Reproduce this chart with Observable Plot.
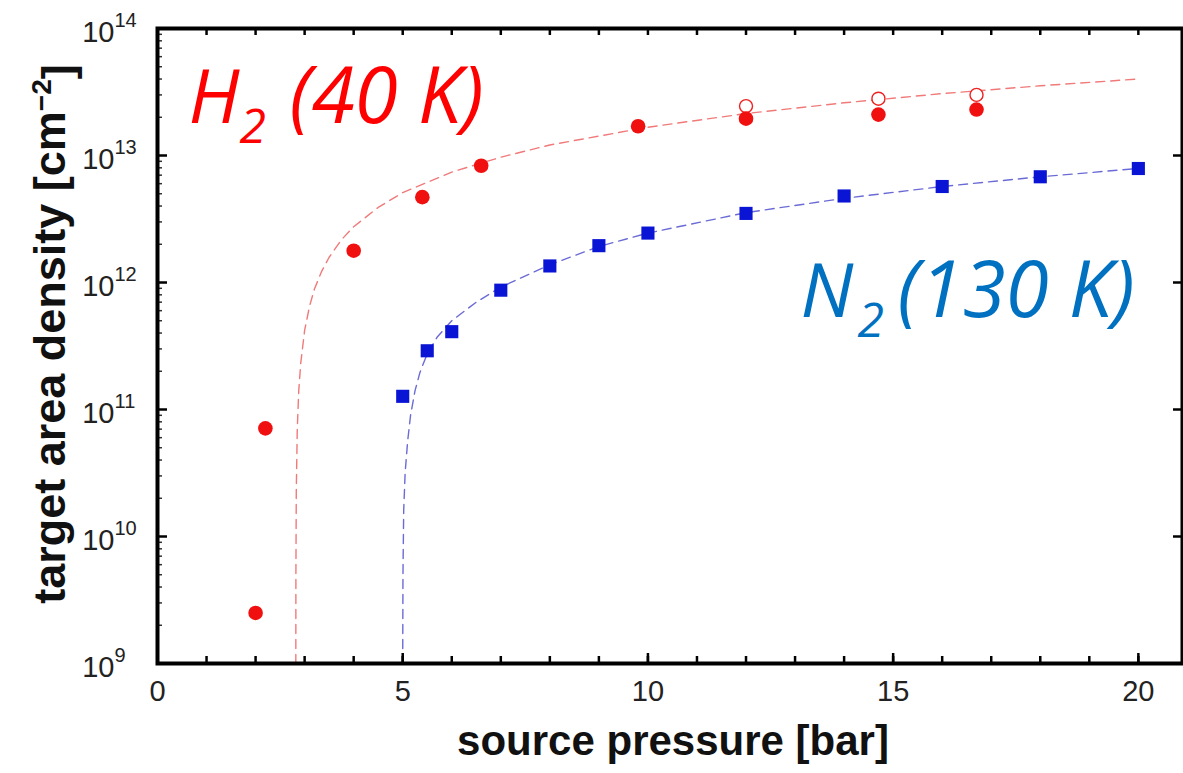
<!DOCTYPE html>
<html>
<head>
<meta charset="utf-8">
<script src="https://cdn.jsdelivr.net/npm/d3@7"></script>
<script src="https://cdn.jsdelivr.net/npm/@observablehq/plot@0.6"></script>
<style>
  html, body { margin: 0; padding: 0; background: white; }
  #chart svg { display: block; }
</style>
</head>
<body>
<div id="chart"></div>
<script>
// ---- data ----
const h2Pressure = [2.0, 2.2, 4.0, 5.4, 6.6, 9.8, 12.0, 14.7, 16.7];
const h2Density  = [2.5e9, 7.1e10, 1.78e12, 4.7e12, 8.3e12, 1.7e13, 1.95e13, 2.1e13, 2.3e13];
const h2OpenPressure = [12.0, 14.7, 16.7];
const h2OpenDensity  = [2.45e13, 2.8e13, 3.0e13];
const n2Pressure = [5, 5.5, 6, 7, 8, 9, 10, 12, 14, 16, 18, 20];
const n2Density  = [1.27e11, 2.9e11, 4.1e11, 8.7e11, 1.35e12, 1.95e12, 2.45e12, 3.5e12, 4.8e12, 5.7e12, 6.8e12, 7.9e12];
// dashed fit curves
const h2FitPressure = [2.8204, 2.822, 2.83, 2.85, 2.88, 2.92, 3.0, 3.1, 3.2, 3.35, 3.5, 3.75, 4.0, 4.5, 5, 6, 7, 8, 10, 12, 14, 16, 18, 20];
const h2FitDensity  = [1e9, 5e9, 2.3e10, 7e10, 1.4e11, 2.3e11, 4.2e11, 6.5e11, 8.9e11, 1.23e12, 1.58e12, 2.17e12, 2.75e12, 3.9e12, 5.1e12, 7.4e12, 9.7e12, 1.21e13, 1.67e13, 2.14e13, 2.6e13, 3.07e13, 3.54e13, 4.0e13];
const n2FitPressure = [5.0, 5.005, 5.02, 5.05, 5.1, 5.16, 5.25, 5.35, 5.5, 5.7, 6.0, 6.5, 7, 8, 9, 10, 12, 14, 16, 18, 20];
const n2FitDensity  = [1e9, 5e9, 1.6e10, 3.2e10, 5.6e10, 9e10, 1.4e11, 1.95e11, 2.75e11, 3.7e11, 5e11, 7e11, 9.2e11, 1.38e12, 1.92e12, 2.45e12, 3.55e12, 4.6e12, 5.7e12, 6.8e12, 7.9e12];
// tick labels
const xTickLabels = [0, 5, 10, 15, 20];
const yTickExponents = [9, 10, 11, 12, 13, 14];
const xLabel = "source pressure [bar]";
const yLabel = "target area density [cm";
const yLabelSup = "\u22122";

// ---- build tables ----
const h2 = h2Pressure.map((p, i) => ({p, n: h2Density[i]}));
const h2Open = h2OpenPressure.map((p, i) => ({p, n: h2OpenDensity[i]}));
const n2 = n2Pressure.map((p, i) => ({p, n: n2Density[i]}));
const h2Fit = h2FitPressure.map((p, i) => ({p, n: h2FitDensity[i]}));
const n2Fit = n2FitPressure.map((p, i) => ({p, n: n2FitDensity[i]}));

const W = 1183, H = 773, mL = 157, mR = 1, mT = 28, mB = 110;
const fw = W - mL - mR, fh = H - mT - mB;

const xMinor = d3.range(0, 21, 1);
const xMajor = [0, 5, 10, 15, 20];
const yMajor = yTickExponents.map(e => 10 ** e);
const yMinor = [];
for (let e = 9; e < 14; e++) for (let k = 2; k <= 9; k++) yMinor.push(k * 10 ** e);

const tickFont = "Liberation Sans, Arial, sans-serif";
const annFont = "Open Sans, Noto Sans, sans-serif";

const chart = Plot.plot({
  width: W, height: H,
  marginLeft: mL, marginRight: mR, marginTop: mT, marginBottom: mB,
  x: {domain: [0, 20.9], axis: null},
  y: {type: "log", domain: [1e9, 1e14], axis: null},
  style: {background: "white", fontFamily: tickFont, overflow: "visible"},
  marks: [
    Plot.line(h2Fit, {x: "p", y: "n", stroke: "#f07a7a", strokeWidth: 1.4, strokeDasharray: "9,6"}),
    Plot.line(n2Fit, {x: "p", y: "n", stroke: "#6b6bd6", strokeWidth: 1.4, strokeDasharray: "9,6"}),
    Plot.dot(h2Open, {x: "p", y: "n", r: 6.5, stroke: "#ee2222", strokeWidth: 1.4, fill: "white"}),
    Plot.dot(h2, {x: "p", y: "n", r: 7.3, fill: "#f01010", stroke: "none"}),
    Plot.dot(n2, {x: "p", y: "n", r: 7.4, symbol: "square", fill: "#0a14d4", stroke: "none"}),
    // ticks (inward)
    Plot.tickX(xMinor, {x: d => d, insetTop: fh - 7, stroke: "black", strokeWidth: 2.5}),
    Plot.tickX(xMajor, {x: d => d, insetTop: fh - 10, stroke: "black", strokeWidth: 2.5}),
    Plot.tickX(xMinor, {x: d => d, insetBottom: fh - 7, stroke: "black", strokeWidth: 2.5}),
    Plot.tickY(yMajor, {y: d => d, insetRight: fw - 10, stroke: "black", strokeWidth: 2.5}),
    Plot.tickY(yMinor, {y: d => d, insetRight: fw - 5, stroke: "#333", strokeWidth: 1.5}),
    Plot.tickY(yMajor, {y: d => d, insetLeft: fw - 9, stroke: "black", strokeWidth: 2.5}),
    Plot.frame({stroke: "black", strokeWidth: 4}),
    // tick labels
    Plot.text(xTickLabels, {x: d => d, frameAnchor: "bottom", dy: 28, text: d => String(d), fontSize: 29, fill: "#222", lineAnchor: "middle"}),
    Plot.text(yTickExponents, {frameAnchor: "left", y: d => 10 ** d, text: () => "10", textAnchor: "end", dx: -43, dy: 4, fontSize: 29, fill: "#222", lineAnchor: "middle"}),
    Plot.text(yTickExponents, {frameAnchor: "left", y: d => 10 ** d, text: d => String(d), textAnchor: "start", dx: -43, dy: -8, fontSize: 20, fill: "#222", lineAnchor: "middle"}),
    // axis titles
    Plot.text([xLabel], {frameAnchor: "bottom", text: d => d, dx: 3, dy: 78, fontSize: 42, fontWeight: "bold", fill: "#111", lineAnchor: "middle", textAnchor: "middle"}),
    Plot.text([yLabel], {frameAnchor: "left", text: d => d, dx: -107, dy: -12, rotate: -90, fontSize: 45, fontWeight: "bold", fill: "#111", lineAnchor: "middle", textAnchor: "middle", className: "ytitle"}),
    // annotations
    Plot.text(["H"], {frameAnchor: "top-left", text: d => d, dx: 31, dy: 94, lineAnchor: "bottom", textAnchor: "start", fontSize: 75, fontStyle: "italic", fill: "#ff0000", fontFamily: annFont}),
    Plot.text(["2"], {frameAnchor: "top-left", text: d => d, dx: 82, dy: 114, lineAnchor: "bottom", textAnchor: "start", fontSize: 48, fontStyle: "italic", fill: "#ff0000", fontFamily: annFont}),
    Plot.text(["(40 K)"], {frameAnchor: "top-left", text: d => d, dx: 132, dy: 94, lineAnchor: "bottom", textAnchor: "start", fontSize: 78, fontStyle: "italic", fill: "#ff0000", fontFamily: annFont}),
    Plot.text(["N"], {frameAnchor: "top-left", text: d => d, dx: 643, dy: 288, lineAnchor: "bottom", textAnchor: "start", fontSize: 75, fontStyle: "italic", fill: "#0070c0", fontFamily: annFont}),
    Plot.text(["2"], {frameAnchor: "top-left", text: d => d, dx: 700, dy: 308, lineAnchor: "bottom", textAnchor: "start", fontSize: 48, fontStyle: "italic", fill: "#0070c0", fontFamily: annFont}),
    Plot.text(["(130 K)"], {frameAnchor: "top-left", text: d => d, dx: 740, dy: 288, lineAnchor: "bottom", textAnchor: "start", fontSize: 78, fontStyle: "italic", fill: "#0070c0", fontFamily: annFont})
  ]
});

document.getElementById("chart").appendChild(chart);

// superscript in the y title
const yt = chart.querySelector(".ytitle text");
if (yt) {
  const ns = "http://www.w3.org/2000/svg";
  const sup = document.createElementNS(ns, "tspan");
  sup.setAttribute("dy", "-0.5em");
  sup.setAttribute("font-size", "28");
  sup.textContent = yLabelSup;
  const close = document.createElementNS(ns, "tspan");
  close.setAttribute("dy", "0.5em");
  close.textContent = "]";
  yt.appendChild(sup);
  yt.appendChild(close);
}
</script>
</body>
</html>
